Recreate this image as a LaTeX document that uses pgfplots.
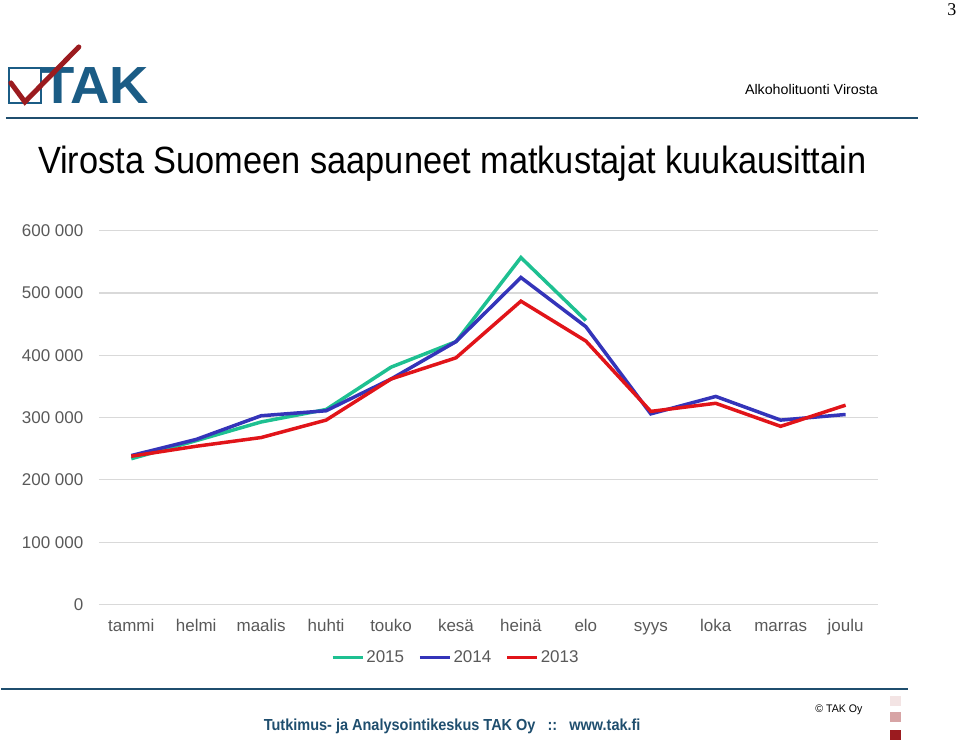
\documentclass[border=0pt]{standalone}
\usepackage{pgfplots}
\pgfplotsset{compat=1.18}
\usepackage{fontspec}
\setmainfont{Liberation Sans}
\newfontfamily\seriffont{Liberation Serif}
\usepackage{graphicx}

\definecolor{c2015}{RGB}{30,192,145}
\definecolor{c2014}{RGB}{52,52,185}
\definecolor{c2013}{RGB}{225,20,25}
\definecolor{tickgray}{RGB}{89,89,89}
\definecolor{gridgray}{RGB}{217,217,217}
\definecolor{takblue}{RGB}{27,92,133}
\definecolor{rulecol}{RGB}{31,78,110}
\definecolor{takred}{RGB}{155,27,31}

\begin{document}
\begin{tikzpicture}[x=1pt,y=1pt]
% page frame, 960 x 747
\path (0,0) rectangle (960,747);

% slide decorations
\node[anchor=north east,font=\seriffont\fontsize{18}{20}\selectfont] at (960,747) {3};
\draw[takblue,line width=1.8pt] (8,644) rectangle (40,679);
\node[anchor=west,inner sep=0pt,text=takblue,font=\bfseries\fontsize{46}{46}\selectfont] at (40,661) {\resizebox{108pt}{36pt}{TAK}};
\draw[takred,line width=5pt,line cap=round] (10,664) -- (24,645) -- (78,700);
\node[anchor=east,inner sep=0pt] at (878,657) {\resizebox{133pt}{\height}{\fontsize{14}{16}\selectfont Alkoholituonti Virosta}};
\draw[rulecol,line width=1.8pt] (5,629) -- (918,629);
\node[anchor=west,inner sep=0pt] at (37,583) {\resizebox{829pt}{\height}{\fontsize{38}{40}\selectfont Virosta Suomeen saapuneet matkustajat kuukausittain}};

\begin{axis}[
  at={(98pt,142pt)}, anchor=south west,
  scale only axis, width=780pt, height=374pt,
  xmin=-0.5, xmax=11.5, ymin=0, ymax=600000,
  axis line style={draw=none},
  ymajorgrids, grid style={gridgray,line width=1.2pt},
  major tick length=0pt,
  xtick={0,...,11},
  xticklabels={tammi,helmi,maalis,huhti,touko,kesä,heinä,elo,syys,loka,marras,joulu},
  ytick={0,100000,200000,300000,400000,500000,600000},
  yticklabels={0,100 000,200 000,300 000,400 000,500 000,600 000},
  scaled y ticks=false,
  ticklabel style={text=tickgray,font=\fontsize{17}{20}\selectfont},
  xticklabel style={yshift=-12pt, text height=12pt, text depth=4pt},
  yticklabel style={xshift=-12pt},
  legend style={draw=none, at={(0.458,-0.142)}, anchor=center,
    legend columns=3, text=tickgray, font=\fontsize{17}{20}\selectfont,
    inner sep=0pt,
    /tikz/every even column/.append style={column sep=12pt}},
  legend image code/.code={\draw[#1] (0pt,0pt) -- (30pt,0pt);},
  legend cell align=left,
]
\addplot[c2015, line width=3.5pt] coordinates {
  (0,234000)(1,263000)(2,293000)(3,313000)(4,381000)(5,422000)(6,557000)(7,456000)
};
\addlegendentry{2015}
\addplot[c2014, line width=3.5pt] coordinates {
  (0,239000)(1,265000)(2,303000)(3,311000)(4,362000)(5,422000)(6,525000)(7,446000)
  (8,306000)(9,334000)(10,296000)(11,305000)
};
\addlegendentry{2014}
\addplot[c2013, line width=3.5pt] coordinates {
  (0,238000)(1,254000)(2,268000)(3,296000)(4,362000)(5,396000)(6,487000)(7,423000)
  (8,310000)(9,323000)(10,286000)(11,320000)
};
\addlegendentry{2013}
\end{axis}

% footer
\draw[rulecol,line width=1.8pt] (0,57) -- (908,57);
\node[anchor=west,inner sep=0pt] at (263,20) {\resizebox{377pt}{\height}{\color{rulecol}\bfseries\fontsize{16}{18}\selectfont Tutkimus- ja Analysointikeskus TAK Oy\ \ \ ::\ \ \ www.tak.fi}};
\node[anchor=west,inner sep=0pt,font=\fontsize{11}{13}\selectfont] at (815,37) {\resizebox{47pt}{\height}{© TAK Oy}};
\fill[takred!12] (890,40) rectangle (901,50);
\fill[takred!40] (890,24) rectangle (901,34);
\fill[takred] (890,6) rectangle (901,16);
\end{tikzpicture}
\end{document}
